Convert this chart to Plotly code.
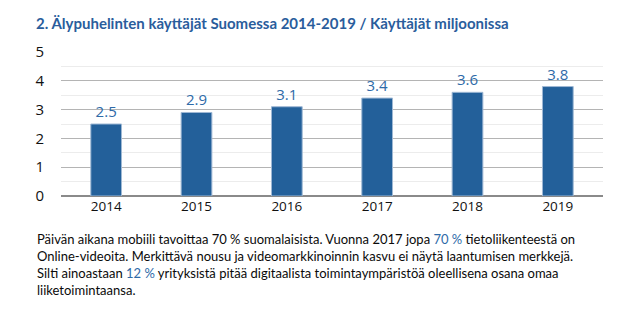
import plotly.graph_objects as go

years = ["2014", "2015", "2016", "2017", "2018", "2019"]
users_millions = [2.5, 2.9, 3.1, 3.4, 3.6, 3.8]
y_ticks = [0, 1, 2, 3, 4, 5]

title_text = "2. Älypuhelinten käyttäjät Suomessa 2014-2019 / Käyttäjät miljoonissa"
blue = "#2e6aa8"
body_lines = [
    "Päivän aikana mobiili tavoittaa 70 % suomalaisista. Vuonna 2017 jopa "
    f"<span style='color:{blue}'>70 %</span> tietoliikenteestä on",
    "Online-videoita. Merkittävä nousu ja videomarkkinoinnin kasvu ei näytä laantumisen merkkejä.",
    f"Silti ainoastaan <span style='color:{blue}'>12 %</span> yrityksistä pitää digitaalista toimintaympäristöä oleellisena osana omaa",
    "liiketoimintaansa.",
]

fig = go.Figure()
fig.add_trace(go.Bar(
    x=years,
    y=users_millions,
    width=0.34,
    marker=dict(color="#23609a", line=dict(color="#9fb8d4", width=1)),
    text=[f"{v:.1f}" for v in users_millions],
    textposition="outside",
    textfont=dict(family="Open Sans, sans-serif", size=15, color=blue),
    cliponaxis=False,
))

fig.update_layout(
    width=634, height=326,
    margin=dict(l=61, r=31, t=52, b=130),
    paper_bgcolor="white", plot_bgcolor="white",
    showlegend=False,
    font=dict(family="Open Sans, sans-serif", color="#111111"),
    bargap=0.66,
    xaxis=dict(
        tickfont=dict(size=13.5, color="#111111"),
        showgrid=False, showline=False, ticks="",
    ),
    yaxis=dict(
        range=[0, 5], tickvals=y_ticks,
        tickfont=dict(size=15, color="#111111"),
        showgrid=True, gridcolor="#b4b4b4", gridwidth=1,
        zeroline=True, zerolinecolor="#8a8a8a", zerolinewidth=1.5,
        showline=False, ticks="", ticklabelstandoff=16,
        minor=dict(dtick=0.5, showgrid=True, gridcolor="#ececec", gridwidth=1),
    ),
)

fig.add_annotation(
    xref="paper", yref="paper", x=-0.05, y=1.20,
    xanchor="left", yanchor="middle",
    text=f"<b>{title_text}</b>", showarrow=False,
    font=dict(family="Lato, sans-serif", size=15, color="#2a5d9c"),
)

fig.add_annotation(
    xref="paper", yref="paper", x=-0.048, y=-0.23,
    xanchor="left", yanchor="top", align="left",
    text="<br>".join(body_lines), showarrow=False,
    font=dict(family="Lato, sans-serif", size=13, color="#0a0a0a"),
)

fig.write_html("out.html")
